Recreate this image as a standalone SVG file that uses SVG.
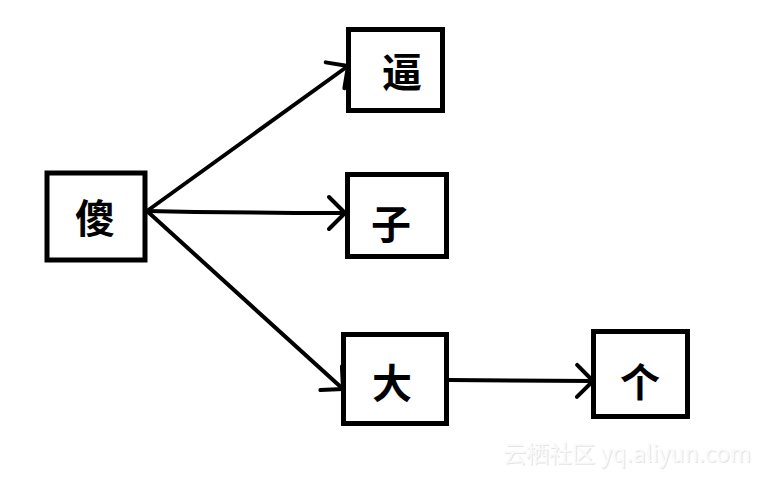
<svg xmlns="http://www.w3.org/2000/svg" width="764" height="477" viewBox="0 0 764 477">
<style>
.box{fill:#fff;stroke:#000;stroke-width:5}
.lbl{font-family:"Noto Sans CJK SC","Noto Sans",sans-serif;font-weight:bold;font-size:40px;fill:#000;text-anchor:middle}
.edge{fill:none;stroke:#000;stroke-width:4;stroke-linecap:round;stroke-linejoin:round}
.wm{font-family:"Noto Sans CJK SC","Liberation Sans",sans-serif;font-size:23px}
</style>
<defs>
<marker id="arr" markerUnits="userSpaceOnUse" markerWidth="40" markerHeight="40" viewBox="-20 -20 40 40" refX="0" refY="0" orient="auto">
<path d="M-16,-16 L0,0 L-16,16" fill="none" stroke="#000" stroke-width="4" stroke-linecap="round" stroke-linejoin="round"/>
</marker>
</defs>
<rect width="764" height="477" fill="#fff"/>
<g id="n-sha"><rect class="box" x="47" y="173" width="98" height="87"/><text class="lbl" x="95" y="233">傻</text></g>
<g id="n-bi"><rect class="box" x="348.5" y="29.5" width="94" height="81"/><text class="lbl" x="402" y="87">逼</text></g>
<g id="n-zi"><rect class="box" x="347.5" y="174.5" width="99" height="82"/><text class="lbl" x="391" y="239">子</text></g>
<g id="n-da"><rect class="box" x="343.5" y="334.5" width="103" height="89"/><text class="lbl" x="392" y="398">大</text></g>
<g id="n-ge"><rect class="box" x="593.5" y="331.5" width="94" height="85"/><text class="lbl" x="640" y="397">个</text></g>
<g id="connectors">
<path class="edge" d="M147,211 L348,66" marker-end="url(#arr)"/>
<path class="edge" d="M147,211 L195,212 L295,213 L345,213" marker-end="url(#arr)"/>
<path class="edge" d="M147,211 L343,389" marker-end="url(#arr)"/>
<path class="edge" d="M449,380 L593,381" marker-end="url(#arr)"/>
</g>
<g id="watermark">
<text class="wm" x="504" y="463" fill="#e4e4e4">云栖社区 yq.aliyun.com</text>
<text class="wm" x="503" y="462" fill="#fafafa">云栖社区 yq.aliyun.com</text>
</g>
</svg>
